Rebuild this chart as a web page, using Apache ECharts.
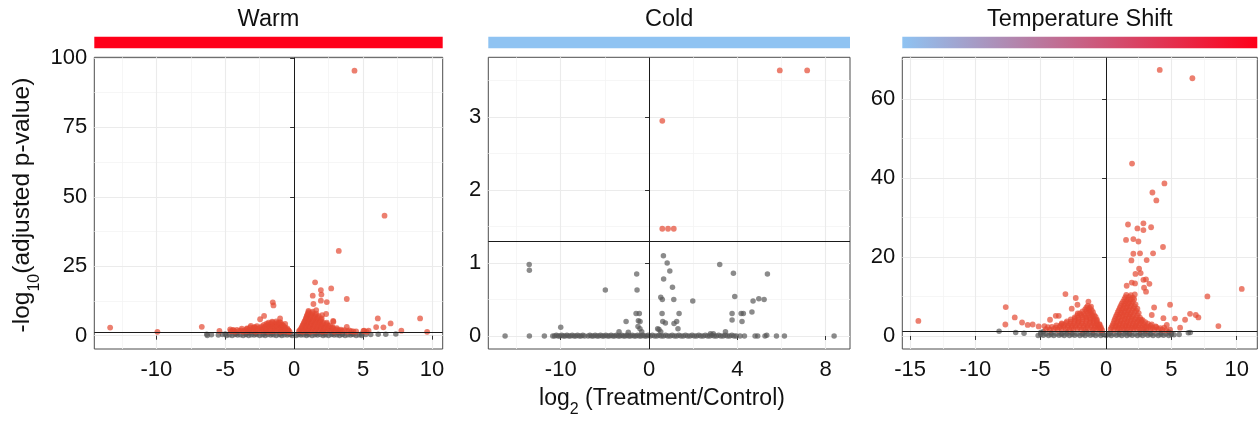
<!DOCTYPE html>
<html><head><meta charset="utf-8">
<script src="https://cdn.jsdelivr.net/npm/echarts@6/dist/echarts.min.js"></script>
<style>html,body{margin:0;padding:0;background:#fff}#c{width:1259px;height:427px}</style>
</head><body><div id="c"></div>
<script>
// ---------------- DATA ----------------
const panelTitles = ['Warm', 'Cold', 'Temperature Shift'];
const pThreshold = 1.3;

const warmXTicks = [-10, -5, 0, 5, 10];
const warmYTicks = [0, 25, 50, 75, 100];
const coldXTicks = [-10, 0, 4, 8];
const coldYTicks = [0, 1, 2, 3];
const shiftXTicks = [-15, -10, -5, 0, 5, 10];
const shiftYTicks = [0, 20, 40, 60];

// Warm: significant (red)
const warmSig = [
  [4.38,95.4],[6.56,43.2],[3.24,30.5],[1.52,19.2],[1.94,16.4],[1.98,14.8],[2.69,17.0],[1.35,14.4],
  [3.82,13.2],[1.94,12.6],[2.37,12.1],[1.40,11.4],[-1.55,12.0],[-1.50,10.9],[-2.18,7.1],[-2.47,5.9],
  [-3.14,3.5],[-2.9,3.0],[-6.7,3.2],[-13.35,2.9],[-9.92,1.4],[-5.42,1.7],[-4.64,2.3],[-4.4,2.0],[-3.43,2.6],
  [6.07,6.2],[5.95,3.1],[6.48,3.0],[7.0,4.4],[9.14,6.2],[9.65,1.4],[7.78,1.8],[3.82,3.2],[2.85,5.0],
  [2.83,5.3],[2.37,4.7],[2.32,7.8],[2.03,7.4],[1.60,9.2],[1.04,8.9],[5.03,1.7],[5.08,1.8],[5.4,1.8],
  [5.27,1.4],[4.3,1.5],[-1.02,6.2],[-0.65,4.2],
  // right cluster
  [0.35,1.6],[0.62,1.5],[0.9,1.7],[1.18,1.5],[1.47,1.6],[1.75,1.7],[2.04,1.5],[2.33,1.6],[2.6,1.8],
  [2.9,1.5],[3.2,1.6],[3.5,1.7],[3.85,1.5],[4.15,1.6],[4.5,1.5],
  [0.42,2.0],[0.7,2.1],[0.98,1.9],[1.26,2.0],[1.55,2.1],[1.84,2.0],[2.12,1.9],[2.4,2.1],[2.7,2.0],
  [3.0,2.0],[3.3,1.9],[3.65,2.0],[4.0,1.9],
  [0.5,2.5],[0.78,2.6],[1.05,2.4],[1.32,2.6],[1.6,2.5],[1.88,2.7],[2.15,2.4],[2.45,2.6],[2.75,2.5],[3.1,2.3],[3.4,2.2],
  [0.55,3.0],[0.82,3.1],[1.08,2.9],[1.36,3.0],[1.64,3.1],[1.92,3.0],[2.2,2.9],[2.5,3.0],[2.8,2.8],[3.1,2.7],
  [0.6,3.5],[0.86,3.4],[1.12,3.6],[1.4,3.5],[1.68,3.4],[1.95,3.6],[2.22,3.3],[2.5,3.5],[2.8,3.1],
  [0.65,4.0],[0.9,4.1],[1.17,3.9],[1.45,4.0],[1.72,4.1],[2.0,3.9],[2.3,3.8],[2.6,3.7],
  [0.7,4.5],[0.95,4.6],[1.22,4.4],[1.5,4.6],[1.78,4.5],[2.05,4.3],[2.35,4.2],
  [0.75,5.0],[1.0,5.1],[1.27,4.9],[1.55,5.0],[1.84,5.1],[2.1,4.8],
  [0.8,5.5],[1.05,5.6],[1.32,5.4],[1.6,5.6],[1.9,5.3],
  [0.85,6.0],[1.1,6.1],[1.37,5.9],[1.65,6.0],[1.95,5.8],
  [0.88,6.5],[1.15,6.6],[1.42,6.4],[1.7,6.5],[2.0,6.2],
  [0.92,7.0],[1.2,7.1],[1.48,6.9],[1.78,7.0],
  [0.95,7.5],[1.25,7.6],[1.55,7.4],
  [1.0,8.0],[1.3,8.1],[1.6,7.9],
  [1.05,8.5],[1.35,8.6],
  // left cluster
  [-4.6,1.6],[-4.3,1.5],[-4.0,1.7],[-3.7,1.5],[-3.4,1.6],[-3.1,1.7],[-2.8,1.5],[-2.5,1.6],[-2.2,1.7],
  [-1.9,1.5],[-1.6,1.6],[-1.3,1.7],[-1.0,1.5],[-0.75,1.6],[-0.5,1.5],[-0.32,1.4],
  [-4.45,2.0],[-4.15,2.1],[-3.85,1.9],[-3.55,2.0],[-3.25,2.1],[-2.95,2.0],[-2.65,1.9],[-2.35,2.1],
  [-2.05,2.0],[-1.75,2.1],[-1.45,1.9],[-1.15,2.0],[-0.88,2.1],[-0.62,1.9],[-0.4,1.8],
  [-3.8,2.5],[-3.4,2.4],[-3.0,2.6],[-2.65,2.5],[-2.3,2.6],[-2.0,2.4],[-1.7,2.6],[-1.4,2.5],[-1.1,2.6],
  [-0.85,2.4],[-0.6,2.3],[-0.42,2.0],
  [-3.2,3.0],[-2.85,3.1],[-2.5,2.9],[-2.15,3.0],[-1.85,3.1],[-1.55,3.0],[-1.25,2.9],[-0.98,3.1],[-0.72,2.8],[-0.5,2.6],
  [-2.7,3.4],[-2.35,3.3],[-2.05,3.5],[-1.75,3.4],[-1.45,3.6],[-1.15,3.4],[-0.9,3.3],[-0.65,3.0],
  [-2.2,3.9],[-1.9,4.0],[-1.6,3.8],[-1.3,3.9],[-1.02,4.0],[-0.78,3.6],
  [-2.0,4.3],[-1.7,4.4],[-1.4,4.2],[-1.12,4.4],[-0.88,4.0],
  [-1.85,4.7],[-1.55,4.8],[-1.25,4.6],[-0.98,4.7],
  [-1.6,5.0],[-1.3,5.1],[-1.05,4.9]
];
// Warm: not significant (grey)
const warmNs = [
  [-6.34,0.5],[-6.3,0.1],[-5.5,0.2],[-4.9,0.1],[-4.5,0.1],[-4.1,0.2],[-3.7,0.1],[-3.3,0.1],[-2.9,0.2],
  [-2.5,0.1],[-2.1,0.1],[-1.7,0.2],[-1.3,0.1],[-0.9,0.1],[-0.5,0.2],[-0.15,0.1],[0.15,0.1],[0.5,0.2],
  [0.9,0.1],[1.3,0.1],[1.7,0.2],[2.1,0.1],[2.5,0.1],[2.9,0.2],[3.3,0.1],[3.7,0.1],[4.1,0.2],[4.5,0.1],
  [4.9,0.1],[5.56,0.4],[6.1,0.5],[6.65,0.5],[7.38,0.6],
  [-6.0,0.3],[-5.2,0.4],[-4.7,0.3],[-4.3,0.4],[-3.9,0.3],[-3.5,0.4],[-3.1,0.3],[-2.7,0.4],[-2.3,0.3],
  [-1.9,0.4],[-1.5,0.3],[-1.1,0.4],[-0.7,0.3],[-0.3,0.4],[0.3,0.4],[0.7,0.3],[1.1,0.4],[1.5,0.3],
  [1.9,0.4],[2.3,0.3],[2.7,0.4],[3.1,0.3],[3.5,0.4],[3.9,0.3],[4.3,0.4],[4.7,0.3],[5.2,0.4],
  [-5.0,0.6],[-4.2,0.7],[-3.5,0.6],[-2.8,0.7],[-2.2,0.6],[-1.6,0.7],[-1.0,0.6],[-0.45,0.7],[0.45,0.7],
  [1.0,0.6],[1.6,0.7],[2.2,0.6],[2.8,0.7],[3.5,0.6],[4.2,0.7],[4.9,0.6],
  [-3.2,1.0],[-2.0,1.1],[-0.8,1.0],[0.8,1.0],[2.0,1.1],[3.2,1.0]
];

// Cold: significant (red)
const coldSig = [[5.92,3.64],[7.16,3.64],[0.60,2.95],[0.60,1.47],[0.86,1.47],[1.12,1.47]];
// Cold: not significant (grey)
const coldNs = [
  [-16.3,0],[-13.57,0.98],[-13.55,0.90],[-13.55,0],[-11.85,0],[-10.0,0.12],[-4.95,0.63],[-1.40,0.85],
  [-1.36,0.63],[-1.47,0.31],[-1.1,0.31],[-2.6,0.2],[-1.21,0.21],[-1.02,0.2],[-1.25,0.13],[-1.03,0.1],
  [-0.83,0.06],[-3.4,0.06],[-2.35,0.05],[0.39,0.1],[0.45,0.09],[0.53,0.06],[0.65,1.10],[0.82,1.0],
  [0.94,0.89],[0.66,0.78],[1.06,0.67],[0.53,0.53],[0.60,0.50],[1.12,0.50],[0.59,0.31],[1.36,0.31],
  [0.62,0.20],[0.74,0.18],[1.13,0.17],[1.25,0.20],[1.31,0.10],[1.98,0.48],[3.2,0.98],[3.82,0.86],
  [3.88,0.54],[3.76,0.31],[3.76,0.22],[4.17,0.31],[4.27,0.31],[4.21,0.20],[3.46,0.06],[2.78,0.03],
  [2.91,0.03],[4.66,0.33],[4.71,0.48],[4.97,0.51],[5.21,0.50],[5.36,0.85],[4.32,0],[4.8,0],[4.92,0],
  [5.25,0],[5.33,0.01],[5.77,0],[6.13,0],[8.38,0],[4.12,0],
  [-10.9,0],[-10.7,0],[-10.5,0.01],[-10.3,0],[-10.1,0],[-9.9,0.01],[-9.7,0],[-9.5,0],[-9.3,0.01],
  [-9.1,0],[-8.9,0],[-8.7,0.01],[-8.5,0],[-8.3,0],[-8.1,0.01],[-7.9,0],[-7.7,0],[-7.5,0.01],[-7.3,0],
  [-6.9,0],[-6.7,0.01],[-6.5,0],[-6.3,0],[-6.1,0.01],[-5.9,0],[-5.7,0],[-5.5,0.01],[-5.3,0],[-5.1,0],
  [-4.9,0.01],[-4.7,0],[-4.5,0],[-4.3,0.01],[-4.1,0],[-3.9,0],[-3.7,0.01],[-3.5,0],[-3.3,0],[-3.1,0.01],
  [-2.9,0],[-2.7,0],[-2.5,0.01],[-2.3,0],[-2.1,0],[-1.9,0.01],[-1.7,0],[-1.5,0],[-1.3,0.01],[-1.1,0],
  [-0.9,0],[-0.7,0.01],[-0.5,0],[-0.3,0],[-0.1,0.01],
  [0.05,0],[0.15,0.01],[0.25,0],[0.35,0],[0.45,0.01],[0.55,0],[0.65,0],[0.75,0.01],[0.85,0],[0.95,0],
  [1.05,0.01],[1.15,0],[1.25,0],[1.35,0.01],[1.45,0],[1.55,0],[1.65,0.01],[1.75,0],[1.85,0],[1.95,0.01],
  [2.05,0],[2.15,0],[2.25,0.01],[2.35,0],[2.45,0],[2.55,0.01],[2.65,0],[2.75,0],[2.85,0.01],[2.95,0],
  [3.05,0],[3.15,0.01],[3.25,0],[3.35,0],[3.45,0.01],[3.55,0],[3.65,0],[3.75,0.01],[3.85,0],[3.95,0]
];

// Temperature Shift: significant (red)
const shiftSig = [
  [4.11,67.3],[6.61,65.2],[1.99,43.6],[4.47,38.6],[3.55,36.3],[3.85,34.3],[2.86,28.5],[1.68,28.2],
  [2.40,27.2],[3.45,27.5],[2.86,26.8],[1.53,24.3],[2.09,24.5],[2.48,23.9],[4.36,22.5],[2.09,20.8],
  [2.60,20.9],[3.60,20.9],[1.94,19.1],[3.11,19.2],[2.53,17.0],[2.25,15.7],[2.65,15.9],[2.86,14.2],
  [3.06,14.3],[3.32,13.2],[1.97,13.5],[2.22,13.3],[1.58,12.7],[2.91,12.2],[10.39,11.9],[7.76,10.0],
  [4.90,7.9],[3.68,7.2],[6.43,5.6],[6.87,5.3],[7.07,4.7],[5.28,4.4],[6.05,4.1],[8.60,2.5],[3.06,11.2],
  [2.68,4.1],[3.50,5.3],[4.39,4.5],[4.65,2.8],[5.67,2.1],
  [-14.37,3.8],[-7.68,7.3],[-7.71,2.9],[-6.99,4.7],[-6.43,3.4],[-6.0,2.8],[-5.62,2.9],[-5.16,2.4],
  [-4.72,2.5],[-4.29,4.1],[-3.85,5.1],[-3.62,5.1],[-3.11,10.6],[-2.32,9.6],[-2.19,7.9],[-2.63,6.9],
  [-2.17,5.7],[-1.35,8.7],[-3.39,3.0],
  // right cluster
  [0.35,1.7],[0.6,1.6],[0.85,1.8],[1.1,1.6],[1.35,1.7],[1.6,1.8],[1.85,1.6],[2.1,1.7],[2.35,1.8],
  [2.6,1.6],[2.85,1.7],[3.1,1.6],[3.4,1.8],[3.7,1.6],[4.0,1.7],[4.3,1.6],[4.6,1.5],[4.9,1.6],
  [0.42,2.2],[0.72,2.3],[0.97,2.1],[1.22,2.2],[1.47,2.3],[1.72,2.2],[1.97,2.1],[2.22,2.3],[2.47,2.2],
  [2.72,2.1],[2.97,2.3],[3.25,2.2],[3.55,2.1],[3.85,2.2],[4.15,2.0],[4.45,2.1],
  [0.5,2.7],[0.75,2.6],[1.0,2.8],[1.25,2.7],[1.5,2.6],[1.75,2.8],[2.0,2.7],[2.25,2.6],[2.5,2.8],
  [2.8,2.7],[3.1,2.5],[3.4,2.6],[3.8,2.4],
  [0.56,3.2],[0.81,3.3],[1.06,3.1],[1.31,3.2],[1.56,3.3],[1.81,3.2],[2.06,3.1],[2.31,3.3],[2.6,3.2],
  [2.9,3.0],[3.2,3.1],[3.5,2.9],
  [0.62,3.8],[0.88,3.7],[1.12,3.9],[1.38,3.8],[1.62,3.7],[1.88,3.9],[2.12,3.8],[2.4,3.6],[2.7,3.7],[3.0,3.5],
  [0.68,4.3],[0.94,4.4],[1.19,4.2],[1.44,4.3],[1.69,4.4],[1.94,4.3],[2.2,4.2],[2.5,4.1],[2.8,4.0],
  [0.75,4.9],[1.0,4.8],[1.25,5.0],[1.5,4.9],[1.75,4.8],[2.0,5.0],[2.3,4.7],[2.6,4.6],
  [0.82,5.4],[1.08,5.5],[1.32,5.3],[1.57,5.4],[1.82,5.5],[2.1,5.3],[2.4,5.2],
  [0.9,6.0],[1.15,5.9],[1.4,6.1],[1.65,6.0],[1.9,5.9],[2.2,6.1],[2.5,5.8],
  [0.97,6.5],[1.22,6.6],[1.47,6.4],[1.72,6.5],[2.0,6.6],[2.3,6.4],
  [1.05,7.1],[1.3,7.0],[1.55,7.2],[1.8,7.1],[2.1,7.0],[2.4,6.9],
  [1.12,7.6],[1.37,7.7],[1.62,7.5],[1.88,7.6],[2.18,7.5],
  [1.2,8.2],[1.45,8.1],[1.7,8.3],[1.95,8.2],[2.25,8.0],
  [1.3,8.7],[1.55,8.8],[1.8,8.6],[2.05,8.7],
  [1.4,9.3],[1.65,9.2],[1.9,9.4],[2.15,9.3],
  [1.48,9.8],[1.75,9.9],[2.05,9.7],
  [1.55,10.4],[1.9,10.3],[2.2,10.5],
  // left cluster
  [-4.6,1.7],[-4.3,1.6],[-4.0,1.8],[-3.7,1.6],[-3.4,1.7],[-3.1,1.8],[-2.8,1.6],[-2.5,1.7],[-2.2,1.8],
  [-1.9,1.6],[-1.6,1.7],[-1.3,1.8],[-1.0,1.6],[-0.75,1.7],[-0.5,1.6],[-0.3,1.5],
  [-4.45,2.2],[-4.15,2.3],[-3.85,2.1],[-3.55,2.2],[-3.25,2.3],[-2.95,2.2],[-2.65,2.1],[-2.35,2.3],
  [-2.05,2.2],[-1.75,2.1],[-1.45,2.3],[-1.15,2.2],[-0.88,2.1],[-0.62,2.2],[-0.4,1.9],
  [-3.8,2.7],[-3.5,2.6],[-3.2,2.8],[-2.9,2.7],[-2.6,2.6],[-2.3,2.8],[-2.0,2.7],[-1.7,2.6],[-1.4,2.8],
  [-1.1,2.7],[-0.85,2.6],[-0.6,2.5],[-0.4,2.2],
  [-3.4,3.2],[-3.05,3.3],[-2.75,3.1],[-2.45,3.2],[-2.15,3.3],[-1.85,3.2],[-1.55,3.1],[-1.25,3.3],
  [-0.98,3.2],[-0.72,3.0],[-0.5,2.8],
  [-3.0,3.7],[-2.7,3.6],[-2.4,3.8],[-2.1,3.7],[-1.8,3.6],[-1.5,3.8],[-1.2,3.7],[-0.95,3.6],[-0.7,3.4],[-0.5,3.0],
  [-2.7,4.2],[-2.4,4.3],[-2.1,4.1],[-1.8,4.2],[-1.5,4.3],[-1.2,4.2],[-0.95,4.1],[-0.72,3.9],
  [-2.4,4.7],[-2.1,4.6],[-1.8,4.8],[-1.5,4.7],[-1.2,4.6],[-0.95,4.5],[-0.7,4.1],
  [-2.2,5.2],[-1.9,5.3],[-1.6,5.1],[-1.3,5.2],[-1.05,5.1],[-0.8,4.8],
  [-2.0,5.7],[-1.7,5.6],[-1.4,5.8],[-1.15,5.6],[-0.9,5.2],
  [-1.8,6.2],[-1.5,6.3],[-1.25,6.1],[-1.0,6.0],
  [-1.6,6.7],[-1.35,6.6],[-1.1,6.5],
  [-1.5,7.2],[-1.25,7.1],
  [-1.4,7.6],[-1.15,7.4]
];
// Temperature Shift: not significant (grey)
const shiftNs = [
  [-8.19,1.2],[-6.92,0.9],[-6.28,0.7],
  [-5.2,0.1],[-4.8,0.2],[-4.4,0.1],[-4.0,0.1],[-3.6,0.2],[-3.2,0.1],[-2.8,0.1],[-2.4,0.2],[-2.0,0.1],
  [-1.6,0.1],[-1.2,0.2],[-0.8,0.1],[-0.4,0.1],[0.0,0.1],[0.4,0.1],[0.8,0.2],[1.2,0.1],[1.6,0.1],
  [2.0,0.2],[2.4,0.1],[2.8,0.1],[3.2,0.2],[3.6,0.1],[4.0,0.1],[4.4,0.2],[4.8,0.1],[5.2,0.3],[5.6,0.4],
  [6.3,0.8],[6.45,0.9],
  [-5.0,0.4],[-4.6,0.5],[-4.2,0.4],[-3.8,0.5],[-3.4,0.4],[-3.0,0.5],[-2.6,0.4],[-2.2,0.5],[-1.8,0.4],
  [-1.4,0.5],[-1.0,0.4],[-0.6,0.5],[-0.2,0.4],[0.2,0.4],[0.6,0.5],[1.0,0.4],[1.4,0.5],[1.8,0.4],
  [2.2,0.5],[2.6,0.4],[3.0,0.5],[3.4,0.4],[3.8,0.5],[4.2,0.4],[4.6,0.5],[5.0,0.4],
  [-5.0,0.9],[-4.2,0.8],[-3.4,0.7],[-2.6,0.8],[-1.8,0.7],[-1.0,0.8],[-0.3,0.7],[0.3,0.7],[1.0,0.8],
  [1.8,0.7],[2.6,0.8],[3.4,0.7],[4.2,0.8],[5.0,0.7],
  [-4.8,1.1],[-3.0,1.0],[-1.5,1.1],[1.5,1.0],[3.0,1.1],[4.8,1.0]
];

// ---------------- CHART ----------------
const FONT = '"Liberation Sans", Arial, Helvetica, sans-serif';
const coldScale = x => (x < 0 ? x * 0.4 : x);
const ident = x => x;

const panels = [
  { title: panelTitles[0], left: 94.3, width: 348.4, xMin: -14.5, xMax: 10.78, yMin: -4.8, yMax: 100.2,
    xTicks: warmXTicks, xMinor: [-12.5, -7.5, -2.5, 2.5, 7.5], yTicks: warmYTicks, yMinor: [12.5, 37.5, 62.5, 87.5],
    sig: warmSig, ns: warmNs, xf: ident, fill: '#ff0019' },
  { title: panelTitles[1], left: 488.3, width: 361.7, xMin: -18.2, xMax: 9.10, yMin: -0.178, yMax: 3.82,
    xTicks: coldXTicks, xMinor: [-15, -5, 2, 6], yTicks: coldYTicks, yMinor: [0.5, 1.5, 2.5, 3.5],
    sig: coldSig, ns: coldNs, xf: coldScale, fill: '#8fc3f2' },
  { title: panelTitles[2], left: 902.3, width: 355, xMin: -15.6, xMax: 11.58, yMin: -3.3, yMax: 70.5,
    xTicks: shiftXTicks, xMinor: [-12.5, -7.5, -2.5, 2.5, 7.5], yTicks: shiftYTicks, yMinor: [10, 30, 50, 70],
    sig: shiftSig, ns: shiftNs, xf: ident,
    fill: { type: 'linear', x: 0, y: 0, x2: 1, y2: 0, colorStops: [{ offset: 0, color: '#8fc3f2' }, { offset: 1, color: '#ff0019' }] } }
];

const TOP = 57.3, HEIGHT = 291.7;
const grid = [], xAxis = [], yAxis = [], series = [], graphic = [];

panels.forEach((p, i) => {
  grid.push({ left: p.left, top: TOP, width: p.width, height: HEIGHT, show: true,
    borderColor: '#4d4d4d', borderWidth: 1, backgroundColor: 'transparent', outerBoundsMode: 'none', containLabel: false });
  const xt = p.xTicks.map(p.xf), xm = p.xMinor.map(p.xf);
  const labelFmt = v => String(p.xf === coldScale && v < 0 ? Math.round(v / 0.4) : v);
  const xmin = p.xf(p.xMin);
  // minor axes (grid lines only)
  xAxis.push({ type: 'value', gridIndex: i, min: xmin, max: p.xMax,
    axisLine: { show: false }, axisTick: { show: false, customValues: xm }, axisLabel: { show: false, customValues: xm },
    splitLine: { show: true, lineStyle: { color: '#f4f4f4', width: 0.8 } }, z: 0 });
  yAxis.push({ type: 'value', gridIndex: i, min: p.yMin, max: p.yMax,
    axisLine: { show: false }, axisTick: { show: false, customValues: p.yMinor }, axisLabel: { show: false, customValues: p.yMinor },
    splitLine: { show: true, lineStyle: { color: '#f4f4f4', width: 0.8 } }, z: 0 });
  // major axes
  xAxis.push({ type: 'value', gridIndex: i, min: xmin, max: p.xMax, position: 'bottom',
    axisLine: { show: false },
    axisTick: { show: true, customValues: xt, length: 4, lineStyle: { color: '#333', width: 1 } },
    axisLabel: { show: true, customValues: xt, formatter: labelFmt, fontSize: 22, fontFamily: FONT, color: '#111', margin: 10 },
    splitLine: { show: true, lineStyle: { color: '#ebebeb', width: 1.1 } }, z: 1 });
  yAxis.push({ type: 'value', gridIndex: i, min: p.yMin, max: p.yMax, position: 'left',
    axisLine: { show: false },
    axisTick: { show: true, customValues: p.yTicks, length: 4, lineStyle: { color: '#333', width: 1 } },
    axisLabel: { show: true, customValues: p.yTicks, fontSize: 22, fontFamily: FONT, color: '#111', margin: 7 },
    splitLine: { show: true, lineStyle: { color: '#ebebeb', width: 1.1 } }, z: 1 });
  const xi = i * 2 + 1, yi = i * 2 + 1;
  series.push({ type: 'scatter', xAxisIndex: xi, yAxisIndex: yi, symbol: 'circle', symbolSize: 5.5,
    data: p.ns.map(d => [p.xf(d[0]), d[1]]), itemStyle: { color: 'rgba(85,85,85,0.85)' }, silent: true, z: 2,
    markLine: { silent: true, symbol: 'none', animation: false, z: 5, label: { show: false },
      lineStyle: { color: '#1a1a1a', width: 1, type: 'solid' },
      data: [{ xAxis: 0 }, { yAxis: pThreshold }] } });
  series.push({ type: 'scatter', xAxisIndex: xi, yAxisIndex: yi, symbol: 'circle', symbolSize: 5.8,
    data: p.sig.map(d => [p.xf(d[0]), d[1]]), itemStyle: { color: 'rgba(228,72,50,0.88)' }, silent: true, z: 3 });
  // strip + title
  graphic.push({ type: 'rect', shape: { x: p.left, y: 36.7, width: p.width, height: 11.6 }, style: { fill: p.fill }, silent: true });
  graphic.push({ type: 'text', x: p.left + p.width / 2, y: 19.5,
    style: { text: p.title, font: '23.5px ' + FONT, fill: '#111', align: 'center', verticalAlign: 'middle' }, silent: true });
});

// axis titles
graphic.push({ type: 'text', x: 662, y: 399,
  style: { text: 'log{sub|2} (Treatment/Control)', font: '23px ' + FONT, fill: '#111', align: 'center', verticalAlign: 'middle',
    lineHeight: 38, rich: { sub: { fontSize: 16, fontFamily: FONT, lineHeight: 15, verticalAlign: 'bottom', fill: '#111' } } }, silent: true });
graphic.push({ type: 'text', x: 22.5, y: 205, rotation: Math.PI / 2,
  style: { text: '-log{sub|10}(adjusted p-value)', font: '24.5px ' + FONT, fill: '#111', align: 'center', verticalAlign: 'middle',
    lineHeight: 40, rich: { sub: { fontSize: 16, fontFamily: FONT, lineHeight: 15, verticalAlign: 'bottom', fill: '#111' } } }, silent: true });

const chart = echarts.init(document.getElementById('c'), null, { renderer: 'canvas' });
chart.setOption({ animation: false, backgroundColor: '#fff', grid, xAxis, yAxis, series, graphic });
</script></body></html>
